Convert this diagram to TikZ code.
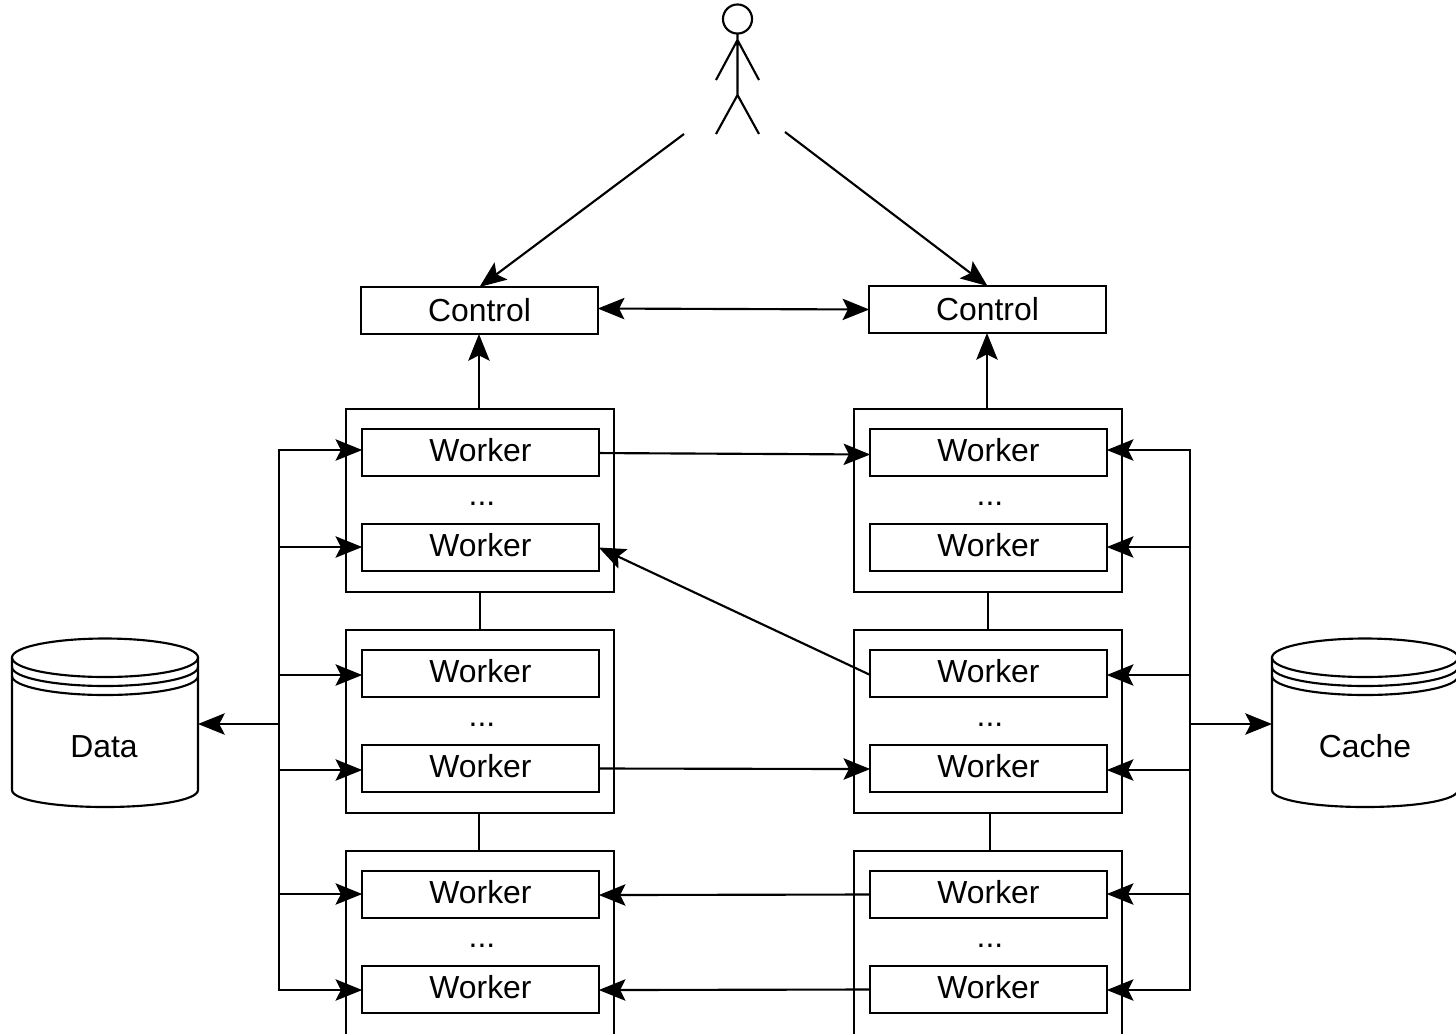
\documentclass[tikz,border=0pt]{standalone}
\usepackage{fontspec}
\setmainfont{Liberation Sans}
\usetikzlibrary{arrows.meta}
\tikzset{
  base/.style={draw=black,line width=1.6pt,rectangle,inner sep=0pt,outer sep=0pt},
  labelled/.style={base,font=\fontsize{23.9}{28}\selectfont,text height=16.5pt,text depth=3.75pt},
  worker/.style={labelled,minimum width=177.4pt,minimum height=35.25pt},
  controlbox/.style={worker,text depth=0.75pt},
  group/.style={base,minimum width=201pt,minimum height=137.25pt},
  opengroup/.style={base,minimum width=201pt,minimum height=225pt},
  dots/.style={font=\fontsize{23.9}{28}\selectfont,inner sep=0pt,anchor=base},
  storetext/.style={font=\fontsize{23.9}{28}\selectfont,inner sep=0pt,anchor=base},
  storebox/.style={inner sep=0pt,outer sep=0pt,minimum width=139.5pt,minimum height=126pt},
  line/.style={black,line width=1.6pt},
  arr/.style={line,-{Stealth[length=20pt,width=16pt,inset=4pt]}},
  biarr/.style={line,{Stealth[length=20pt,width=16pt,inset=4pt]}-{Stealth[length=20pt,width=16pt,inset=4pt]}},
  datastore/.pic={
    \draw[line] (12,657.5) .. controls (12,647) and (53.6,638.5) .. (105,638.5)
      .. controls (156.4,638.5) and (198,647) .. (198,657.5)
      .. controls (198,668.5) and (156.4,677) .. (105,677)
      .. controls (53.6,677) and (12,668.5) .. (12,657.5) -- cycle;
    \draw[line] (12,667) .. controls (12,677.5) and (53.6,686) .. (105,686)
      .. controls (156.4,686) and (198,677.5) .. (198,667);
    \draw[line] (12,676) .. controls (12,686.5) and (53.6,695) .. (105,695)
      .. controls (156.4,695) and (198,686.5) .. (198,676);
    \draw[line] (12,657.5) -- (12,790) .. controls (12,800) and (53.6,807) .. (105,807)
      .. controls (156.4,807) and (198,800) .. (198,790) -- (198,657.5);
  }
}
\begin{document}
\begin{tikzpicture}[x=0.75pt,y=-0.75pt]
\useasboundingbox (0,0) rectangle (1456,1033);
\clip (0,0) rectangle (1456,1033);

% stick figure
\draw[line] (737.5,19) circle[radius=10.9pt];
\draw[line] (737.5,33.5) -- (737.5,95) (716,80) -- (737.5,40) -- (759,80) (716,134) -- (737.5,95) -- (759,134);
\coordinate (actorL) at (684,134);
\coordinate (actorR) at (785,132);

% group frames
\node[group] (gl1) at (480,500.5) {};
\node[group] (gl2) at (480,721.5) {};
\node[opengroup] (gl3) at (480,1001) {};
\node[group] (gr1) at (988,500.5) {};
\node[group] (gr2) at (988,721.5) {};
\node[opengroup] (gr3) at (988,1001) {};

% controls
\node[controlbox] (cl) at (479.5,310.5) {Control};
\node[controlbox] (cr) at (987.5,309.5) {Control};

% workers
\node[worker] (lw1) at (480.5,452.5) {Worker};
\node[worker] (lw2) at (480.5,547.5) {Worker};
\node[worker] (lw3) at (480.5,673.5) {Worker};
\node[worker] (lw4) at (480.5,768.5) {Worker};
\node[worker] (lw5) at (480.5,894.5) {Worker};
\node[worker] (lw6) at (480.5,989.5) {Worker};
\node[worker] (rw1) at (988.5,452.5) {Worker};
\node[worker] (rw2) at (988.5,547.5) {Worker};
\node[worker] (rw3) at (988.5,673.5) {Worker};
\node[worker] (rw4) at (988.5,768.5) {Worker};
\node[worker] (rw5) at (988.5,894.5) {Worker};
\node[worker] (rw6) at (988.5,989.5) {Worker};

% dots
\node[dots] (dl1) at (482,505) {...};
\node[dots] (dl2) at (482,726) {...};
\node[dots] (dl3) at (482,947) {...};
\node[dots] (dr1) at (990,505) {...};
\node[dots] (dr2) at (990,726) {...};
\node[dots] (dr3) at (990,947) {...};

% stores
\pic at (0,0) {datastore};
\pic at (1260,0) {datastore};
\node[storebox] (data) at (105,723.5) {};
\node[storebox] (cache) at (1365,723.5) {};
\node[storetext] (datat) at (104,757.5) {Data};
\node[storetext] (cachet) at (1365,757.5) {Cache};

% actor to controls
\draw[arr] (actorL) -- (cl.north);
\draw[arr] (actorR) -- (cr.north);
\draw[biarr] ([yshift=1.5pt]cl.east) -- (cr.west);

% groups up to controls and between groups
\draw[arr] ([xshift=-0.4pt]gl1.north -| cl.south) -- ([xshift=-0.4pt]cl.south);
\draw[arr] ([xshift=-0.4pt]gr1.north -| cr.south) -- ([xshift=-0.4pt]cr.south);
\draw[line] (gl1.south) -- (gl2.north);
\draw[line] (gr1.south) -- (gr2.north);
\draw[line] ([xshift=-0.75pt]gl2.south) -- ([xshift=-0.75pt]gl2.south |- gl3.north);
\draw[line] ([xshift=1.5pt]gr2.south) -- ([xshift=1.5pt]gr2.south |- gr3.north);

% worker to worker
\draw[arr] ([yshift=-0.4pt]lw1.east) -- ([yshift=-1.5pt]rw1.west);
\draw[arr] ([yshift=-1.1pt]rw3.west) -- (lw2.east);
\draw[arr] (lw4.east) -- ([yshift=-0.4pt]rw4.west);
\draw[arr] (rw5.west) -- ([yshift=-0.4pt]lw5.east);
\draw[arr] (rw6.west) -- ([yshift=-0.4pt]lw6.east);

% left bus
\coordinate (bl1) at (279,450);
\coordinate (bl2) at (279,547);
\coordinate (bl3) at (279,675);
\coordinate (bl4) at (279,770);
\coordinate (bl5) at (279,894);
\coordinate (bl6) at (279,990);
\coordinate (blm) at (279,724);
\draw[line,line cap=rect] (bl1) -- (bl6);
\draw[arr] (bl1) -- (bl1 -| lw1.west);
\draw[arr] (bl2) -- (bl2 -| lw2.west);
\draw[arr] (bl3) -- (bl3 -| lw3.west);
\draw[arr] (bl4) -- (bl4 -| lw4.west);
\draw[arr] (bl5) -- (bl5 -| lw5.west);
\draw[arr] (bl6) -- (bl6 -| lw6.west);
\draw[arr] (blm) -- (blm -| data.east);

% right bus
\coordinate (br1) at (1190,450);
\coordinate (br2) at (1190,547);
\coordinate (br3) at (1190,675);
\coordinate (br4) at (1190,770);
\coordinate (br5) at (1190,894);
\coordinate (br6) at (1190,990);
\coordinate (brm) at (1190,724);
\draw[line,line cap=rect] (br1) -- (br6);
\draw[arr] (br1) -- (br1 -| rw1.east);
\draw[arr] (br2) -- (br2 -| rw2.east);
\draw[arr] (br3) -- (br3 -| rw3.east);
\draw[arr] (br4) -- (br4 -| rw4.east);
\draw[arr] (br5) -- (br5 -| rw5.east);
\draw[arr] (br6) -- (br6 -| rw6.east);
\draw[arr] (brm) -- (brm -| cache.west);
\end{tikzpicture}
\end{document}
